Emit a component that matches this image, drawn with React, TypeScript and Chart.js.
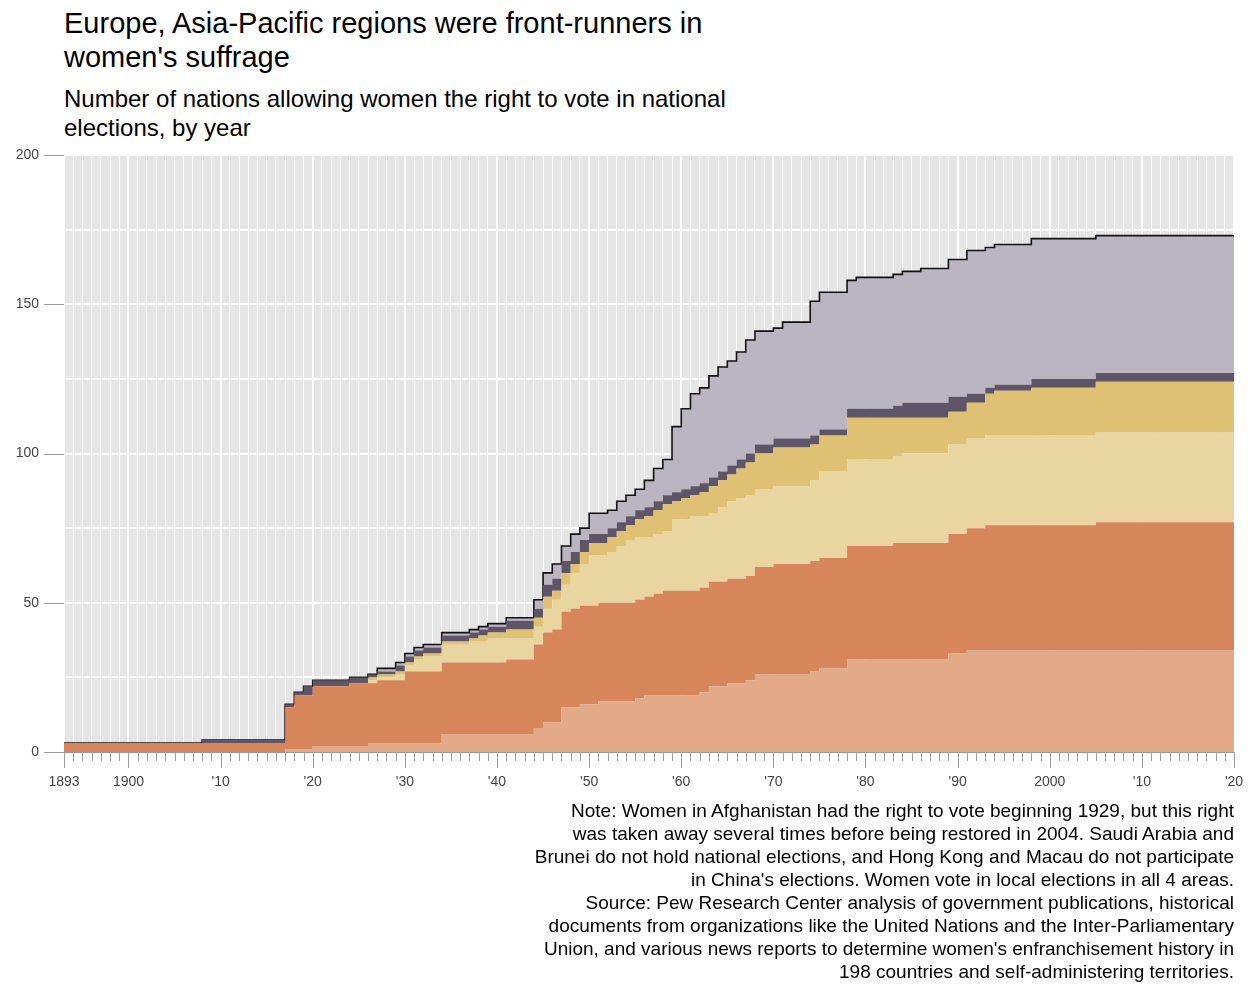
import { useEffect, useRef } from "react";
import { Chart, registerables } from "chart.js";

Chart.register(...registerables);

// years where at least one band changes
const years = [1893, 1908, 1917, 1918, 1919, 1920, 1924, 1926, 1927, 1929, 1930, 1931, 1932, 1934, 1937, 1938, 1939, 1941, 1944, 1945, 1946, 1947, 1948, 1949, 1950, 1951, 1952, 1953, 1954, 1955, 1956, 1957, 1958, 1959, 1960, 1961, 1962, 1963, 1964, 1965, 1966, 1967, 1968, 1970, 1971, 1974, 1975, 1978, 1979, 1983, 1984, 1986, 1989, 1991, 1993, 1994, 1998, 2005, 2006, 2020];

// cumulative top of each band
const salmonTop = [0, 0, 0, 1, 1, 1, 2, 2, 3, 3, 3, 3, 3, 3, 6, 6, 6, 6, 6, 8, 10, 10, 15, 15, 16, 16, 17, 17, 17, 17, 18, 19, 19, 19, 19, 19, 19, 20, 22, 22, 23, 23, 24, 26, 26, 26, 27, 28, 31, 31, 31, 31, 31, 33, 34, 34, 34, 34, 34, 34];
const orangeTop = [2, 3, 3, 15, 19, 19, 22, 23, 23, 24, 24, 27, 27, 27, 30, 30, 30, 30, 31, 36, 40, 41, 47, 48, 49, 49, 50, 50, 50, 50, 51, 52, 53, 54, 54, 54, 54, 55, 57, 57, 58, 58, 59, 62, 63, 63, 64, 65, 69, 69, 70, 70, 70, 73, 75, 76, 76, 76, 77, 77];
const tanTop = [2, 3, 3, 15, 19, 19, 22, 23, 24, 25, 26, 29, 31, 32, 36, 37, 37, 38, 38, 42, 48, 51, 56, 60, 63, 66, 66, 67, 69, 71, 72, 72, 73, 74, 78, 78, 79, 79, 80, 82, 84, 85, 86, 88, 89, 89, 91, 94, 98, 98, 99, 100, 100, 103, 105, 106, 106, 106, 107, 107];
const goldTop = [2, 3, 3, 15, 19, 19, 22, 23, 25, 26, 27, 30, 32, 33, 37, 38, 39, 40, 41, 45, 52, 54, 60, 63, 67, 70, 70, 72, 74, 76, 78, 79, 81, 83, 84, 85, 86, 87, 89, 91, 93, 95, 97, 100, 102, 102, 103, 106, 112, 112, 112, 112, 112, 114, 117, 120, 121, 122, 124, 124];
const purpleTop = [2, 3, 4, 16, 20, 22, 24, 25, 26, 27, 29, 32, 34, 35, 39, 40, 41, 42, 44, 48, 56, 58, 64, 67, 71, 73, 73, 75, 77, 79, 81, 82, 84, 86, 87, 88, 89, 90, 92, 94, 96, 98, 100, 103, 105, 105, 106, 108, 115, 115, 116, 117, 117, 119, 120, 122, 123, 125, 127, 127];
const totalTop = [2, 3, 4, 16, 20, 22, 24, 25, 26, 28, 30, 33, 35, 36, 40, 41, 42, 43, 45, 51, 60, 63, 69, 73, 75, 80, 80, 81, 84, 86, 88, 91, 95, 98, 109, 115, 120, 122, 126, 129, 131, 134, 138, 141, 142, 144, 151, 154, 158, 159, 160, 161, 162, 165, 168, 169, 170, 172, 173, 173];

const majorYears = [1893, 1900, 1910, 1920, 1930, 1940, 1950, 1960, 1970, 1980, 1990, 2000, 2010, 2020];
const majorLabels = ["1893", "1900", "'10", "'20", "'30", "'40", "'50", "'60", "'70", "'80", "'90", "2000", "'10", "'20"];
const yLabels = [0, 50, 100, 150, 200];

const FONT = "'Liberation Sans', Arial, sans-serif";

const decor = {
    id: "decor",
    beforeDraw(chart) {
        const { ctx, chartArea } = chart;
        ctx.save();
        ctx.fillStyle = "#e5e5e5";
        ctx.fillRect(chartArea.left, chartArea.top, chartArea.right - chartArea.left, chartArea.bottom - chartArea.top);
        ctx.restore();
    },
    afterDraw(chart) {
        const { ctx, chartArea, scales } = chart;
        const x = scales.x;
        const y = scales.y;
        const base = y.getPixelForValue(0);
        ctx.save();
        ctx.strokeStyle = "#999";
        ctx.lineWidth = 1;
        ctx.beginPath();
        ctx.moveTo(44, base + 0.5);
        ctx.lineTo(chartArea.right, base + 0.5);
        for (let yr = 1893; yr <= 2020; yr++) {
            const px = Math.round(x.getPixelForValue(yr)) + 0.5;
            const major = majorYears.includes(yr);
            ctx.moveTo(px, base);
            ctx.lineTo(px, base + (major ? 16 : 9));
        }
        yLabels.forEach((v) => {
            if (v === 0) return;
            const py = Math.round(y.getPixelForValue(v)) + 0.5;
            ctx.moveTo(44, py);
            ctx.lineTo(chartArea.left, py);
        });
        ctx.stroke();
        ctx.fillStyle = "#444";
        ctx.font = `14px ${FONT}`;
        ctx.textAlign = "center";
        ctx.textBaseline = "middle";
        majorYears.forEach((yr, i) => {
            ctx.fillText(majorLabels[i], x.getPixelForValue(yr), base + 30);
        });
        ctx.textAlign = "right";
        yLabels.forEach((v) => {
            ctx.fillText(String(v), 39, y.getPixelForValue(v));
        });
        ctx.restore();
    },
};

export default function App() {
    const chartRef = useRef<HTMLCanvasElement>(null);

    useEffect(() => {
        const ctx = chartRef.current?.getContext("2d");
        if (!ctx) return;
        const band = (vals, color, fill, border = 0, borderColor = color) => ({
            data: years.map((yr, i) => ({ x: yr, y: vals[i] })),
            backgroundColor: color,
            borderColor: borderColor,
            borderWidth: border,
            fill: fill,
            stepped: "after",
            pointRadius: 0,
        });
        const chart = new Chart(ctx, {
            type: "line",
            data: {
                datasets: [
                    band(salmonTop, "#e2aa87", "origin"),
                    band(orangeTop, "#d6865a", "-1"),
                    band(tanTop, "#e8d59f", "-1"),
                    band(goldTop, "#dec172", "-1"),
                    band(purpleTop, "#5f5569", "-1"),
                    band(totalTop, "#bbb5c2", "-1", 1.6, "#111"),
                ],
            },
            options: {
                animation: false,
                responsive: false,
                layout: { padding: { left: 64, right: 14, top: 15, bottom: 48 } },
                plugins: { legend: { display: false }, tooltip: { enabled: false } },
                scales: {
                    x: {
                        type: "linear",
                        min: 1893,
                        max: 2020,
                        afterBuildTicks: (scale) => {
                            const t = [];
                            for (let yr = 1893; yr <= 2020; yr++) t.push({ value: yr });
                            scale.ticks = t;
                        },
                        ticks: { display: false },
                        border: { display: false },
                        grid: {
                            drawTicks: false,
                            color: "#ffffff",
                            lineWidth: (c) => (c.tick && c.tick.value % 10 === 0 ? 2 : 1),
                        },
                    },
                    y: {
                        min: 0,
                        max: 200,
                        ticks: { display: false, stepSize: 25 },
                        border: { display: false },
                        grid: { drawTicks: false, color: "#ffffff", lineWidth: 2 },
                    },
                },
            },
            plugins: [decor],
        });
        return () => chart.destroy();
    }, []);

    const note = [
        "Note: Women in Afghanistan had the right to vote beginning 1929, but this right",
        "was taken away several times before being restored in 2004. Saudi Arabia and",
        "Brunei do not hold national elections, and Hong Kong and Macau do not participate",
        "in China's elections. Women vote in local elections in all 4 areas.",
        "Source: Pew Research Center analysis of government publications, historical",
        "documents from organizations like the United Nations and the Inter-Parliamentary",
        "Union, and various news reports to determine women's enfranchisement history in",
        "198 countries and self-administering territories.",
    ];

    return (
        <div style={{ position: "fixed", left: 0, top: 0, width: 1248, height: 998, background: "#fff", fontFamily: FONT, color: "#000" }}>
            <div style={{ position: "absolute", left: 64, top: 6, fontSize: 29, lineHeight: "34px" }}>
                Europe, Asia-Pacific regions were front-runners in
                <br />
                women's suffrage
            </div>
            <div style={{ position: "absolute", left: 64, top: 84, fontSize: 24, lineHeight: "29px" }}>
                Number of nations allowing women the right to vote in national
                <br />
                elections, by year
            </div>
            <canvas ref={chartRef} width={1248} height={660} style={{ position: "absolute", left: 0, top: 140, width: 1248, height: 660 }} />
            <div style={{ position: "absolute", right: 14, top: 799, fontSize: 19, lineHeight: "23px", textAlign: "right" }}>
                {note.map((l, i) => (
                    <div key={i}>{l}</div>
                ))}
            </div>
        </div>
    );
}
